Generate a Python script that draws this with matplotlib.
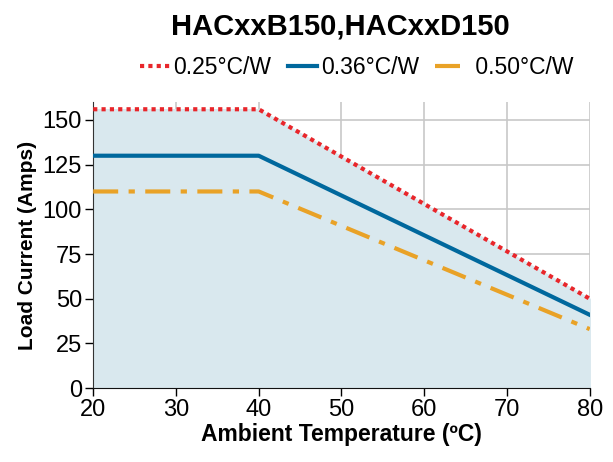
import numpy as np
import matplotlib.pyplot as plt
from matplotlib import font_manager

# Datos
temp = [20, 40, 80]
curr_025 = [156, 156, 50]
curr_036 = [130, 130, 41]
curr_050 = [110, 110, 33]
xticks = [20, 30, 40, 50, 60, 70, 80]
yticks = [0, 25, 50, 75, 100, 125, 150]

nombres = [f.name for f in font_manager.fontManager.ttflist]
if 'Liberation Sans Narrow' in nombres:
    plt.rcParams['font.family'] = ['Liberation Sans Narrow', 'DejaVu Sans']
else:
    plt.rcParams['font.family'] = ['Liberation Sans', 'DejaVu Sans']

fig = plt.figure(figsize=(6.13, 4.62), dpi=100)
ax = fig.add_axes([0.152, 0.160, 0.810, 0.619])

ax.fill_between(temp, 0, curr_025, color='#d9e8ee', zorder=1)
ax.plot(temp, curr_025, color='#e8262b', linestyle=(0, (1, 1)), linewidth=3,
        label='0.25°C/W', zorder=4)
ax.plot(temp, curr_036, color='#00689d', linewidth=3, label='0.36°C/W', zorder=3)
ax.plot(temp, curr_050, color='#e9a227', linestyle=(0, (6, 2.5, 1.5, 2.5)),
        linewidth=3, label=' 0.50°C/W', zorder=3)

ax.set_xlim(20, 80)
ax.set_ylim(0, 160)
ax.set_xticks(xticks)
ax.set_yticks(yticks)
ax.tick_params(labelsize=17, length=6, width=1, direction='out', pad=2)
ax.grid(True, color='#c8c8c8', linewidth=1.2, zorder=0)
ax.set_axisbelow(True)
for s in ['top', 'right']:
    ax.spines[s].set_visible(False)
ax.spines['left'].set_color('#333333')
ax.spines['bottom'].set_color('#111111')

ax.set_xlabel('Ambient Temperature (ºC)', fontsize=16.5, fontweight='bold', labelpad=1)
ax.set_ylabel('Load Current (Amps)', fontsize=15, fontweight='bold', labelpad=4)

fig.suptitle('HACxxB150,HACxxD150', fontsize=21, fontweight='bold', x=0.556, y=0.972)
fig.legend(loc='center', bbox_to_anchor=(0.582, 0.853), ncol=3, frameon=False,
           fontsize=16.5, handlelength=1.3, handletextpad=0.17, columnspacing=0.7)

plt.savefig('out.png', dpi=100)
